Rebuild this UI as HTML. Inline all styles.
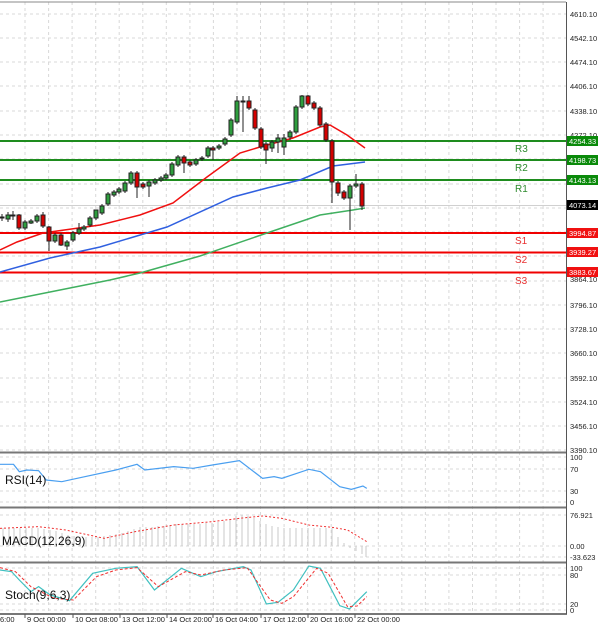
<!DOCTYPE html>
<html><head><meta charset="utf-8"><style>
html,body{margin:0;padding:0;background:#fff;}
svg{display:block;font-family:"Liberation Sans",sans-serif;}
</style></head><body>
<svg width="600" height="624" viewBox="0 0 600 624" xmlns="http://www.w3.org/2000/svg">
<rect width="600" height="624" fill="#fff"/>
<!-- vertical grid -->
<g stroke="#d8d8d8" stroke-dasharray="3,3" stroke-width="1">
<line x1="25" y1="2" x2="25" y2="614"/><line x1="48.6" y1="2" x2="48.6" y2="614"/><line x1="72.1" y1="2" x2="72.1" y2="614"/><line x1="95.7" y1="2" x2="95.7" y2="614"/><line x1="119.2" y1="2" x2="119.2" y2="614"/><line x1="142.8" y1="2" x2="142.8" y2="614"/><line x1="166.3" y1="2" x2="166.3" y2="614"/><line x1="189.9" y1="2" x2="189.9" y2="614"/><line x1="213.4" y1="2" x2="213.4" y2="614"/><line x1="237" y1="2" x2="237" y2="614"/><line x1="260.5" y1="2" x2="260.5" y2="614"/><line x1="284.1" y1="2" x2="284.1" y2="614"/><line x1="307.6" y1="2" x2="307.6" y2="614"/><line x1="331.2" y1="2" x2="331.2" y2="614"/><line x1="354.7" y1="2" x2="354.7" y2="614"/><line x1="378.3" y1="2" x2="378.3" y2="614"/><line x1="401.8" y1="2" x2="401.8" y2="614"/><line x1="425.4" y1="2" x2="425.4" y2="614"/><line x1="448.9" y1="2" x2="448.9" y2="614"/><line x1="472.5" y1="2" x2="472.5" y2="614"/><line x1="496" y1="2" x2="496" y2="614"/><line x1="519.6" y1="2" x2="519.6" y2="614"/><line x1="543.1" y1="2" x2="543.1" y2="614"/>
</g>
<!-- horizontal grid main -->
<g stroke="#d8d8d8" stroke-dasharray="3,3">
<line x1="0" y1="14" x2="566" y2="14"/><line x1="0" y1="38" x2="566" y2="38"/><line x1="0" y1="62" x2="566" y2="62"/><line x1="0" y1="86" x2="566" y2="86"/><line x1="0" y1="111" x2="566" y2="111"/><line x1="0" y1="135" x2="566" y2="135"/><line x1="0" y1="159" x2="566" y2="159"/><line x1="0" y1="184" x2="566" y2="184"/><line x1="0" y1="208" x2="566" y2="208"/><line x1="0" y1="232" x2="566" y2="232"/><line x1="0" y1="256" x2="566" y2="256"/><line x1="0" y1="281" x2="566" y2="281"/><line x1="0" y1="305" x2="566" y2="305"/><line x1="0" y1="329" x2="566" y2="329"/><line x1="0" y1="353" x2="566" y2="353"/><line x1="0" y1="378" x2="566" y2="378"/><line x1="0" y1="402" x2="566" y2="402"/><line x1="0" y1="426" x2="566" y2="426"/><line x1="0" y1="450" x2="566" y2="450"/>
<line x1="0" y1="457" x2="566" y2="457"/><line x1="0" y1="469" x2="566" y2="469"/><line x1="0" y1="491" x2="566" y2="491"/><line x1="0" y1="502" x2="566" y2="502"/>
<line x1="0" y1="515" x2="566" y2="515"/><line x1="0" y1="546" x2="566" y2="546"/><line x1="0" y1="557" x2="566" y2="557"/>
<line x1="0" y1="568" x2="566" y2="568"/><line x1="0" y1="575" x2="566" y2="575"/><line x1="0" y1="604" x2="566" y2="604"/><line x1="0" y1="610" x2="566" y2="610"/>
</g>
<!-- current price line -->
<line x1="0" y1="205.5" x2="566" y2="205.5" stroke="#d0d0d0" stroke-width="1"/>
<!-- S/R lines -->
<g stroke-width="2">
<line x1="0" y1="141" x2="566" y2="141" stroke="#1e8c1e"/>
<line x1="0" y1="160" x2="566" y2="160" stroke="#1e8c1e"/>
<line x1="0" y1="180" x2="566" y2="180" stroke="#1e8c1e"/>
<line x1="0" y1="233" x2="566" y2="233" stroke="#f00000"/>
<line x1="0" y1="252.5" x2="566" y2="252.5" stroke="#f00000"/>
<line x1="0" y1="272.5" x2="566" y2="272.5" stroke="#f00000"/>
</g>
<!-- MAs -->
<polyline fill="none" stroke="#40b060" stroke-width="1.5" points="0,302 50,292 110,280 140,273 200,256 267,233 320,215 353,210 365,208"/>
<polyline fill="none" stroke="#3060e0" stroke-width="1.5" points="0,272 50,258 100,247 167,227 233,197 267,188 300,180 333,166 365,162"/>
<polyline fill="none" stroke="#f01010" stroke-width="1.5" points="0,250 17,242 43,233 100,225 140,215 173,203 207,177 240,153 260,147 293,138 320,127 330,125 347,135 365,148"/>
<!-- candles -->
<g stroke="#222" stroke-width="1">
<line x1="2" y1="214" x2="2" y2="221"/><rect x="0" y="217" width="4" height="1" fill="#333"/>
<line x1="8" y1="212" x2="8" y2="222"/><rect x="6" y="215" width="4" height="4" fill="#2e9e3e"/>
<line x1="13" y1="211" x2="13" y2="220"/><rect x="11" y="215" width="4" height="1" fill="#333"/>
<line x1="19" y1="214" x2="19" y2="230"/><rect x="17" y="215" width="4" height="13" fill="#d40000"/>
<line x1="25" y1="220" x2="25" y2="230"/><rect x="23" y="222" width="4" height="6" fill="#2e9e3e"/>
<line x1="31" y1="219" x2="31" y2="224"/><rect x="29" y="221" width="4" height="2" fill="#2e9e3e"/>
<line x1="37" y1="214" x2="37" y2="223"/><rect x="35" y="216" width="4" height="5" fill="#2e9e3e"/>
<line x1="43" y1="212" x2="43" y2="228"/><rect x="41" y="215" width="4" height="11" fill="#d40000"/>
<line x1="49" y1="226" x2="49" y2="251"/><rect x="47" y="227" width="4" height="14" fill="#d40000"/>
<line x1="55" y1="233" x2="55" y2="243"/><rect x="53" y="235" width="4" height="6" fill="#2e9e3e"/>
<line x1="61" y1="233" x2="61" y2="246"/><rect x="59" y="235" width="4" height="10" fill="#d40000"/>
<line x1="67" y1="240" x2="67" y2="250"/><rect x="65" y="242" width="4" height="4" fill="#2e9e3e"/>
<line x1="73" y1="231" x2="73" y2="242"/><rect x="71" y="233" width="4" height="7" fill="#2e9e3e"/>
<line x1="79" y1="223" x2="79" y2="235"/><rect x="77" y="229" width="4" height="4" fill="#2e9e3e"/>
<line x1="84" y1="225" x2="84" y2="231"/><rect x="82" y="227" width="4" height="2" fill="#2e9e3e"/>
<line x1="90" y1="216" x2="90" y2="227"/><rect x="88" y="218" width="4" height="7" fill="#2e9e3e"/>
<line x1="96" y1="210" x2="96" y2="220"/><rect x="94" y="210" width="4" height="8" fill="#2e9e3e"/>
<line x1="102" y1="204" x2="102" y2="215"/><rect x="100" y="206" width="4" height="7" fill="#2e9e3e"/>
<line x1="108" y1="192" x2="108" y2="206"/><rect x="106" y="194" width="4" height="10" fill="#2e9e3e"/>
<line x1="114" y1="190" x2="114" y2="197"/><rect x="112" y="192" width="4" height="3" fill="#2e9e3e"/>
<line x1="119" y1="187" x2="119" y2="194"/><rect x="117" y="189" width="4" height="3" fill="#2e9e3e"/>
<line x1="125" y1="181" x2="125" y2="193"/><rect x="123" y="183" width="4" height="8" fill="#2e9e3e"/>
<line x1="131" y1="171" x2="131" y2="185"/><rect x="129" y="173" width="4" height="10" fill="#2e9e3e"/>
<line x1="137" y1="171" x2="137" y2="198"/><rect x="135" y="173" width="4" height="14" fill="#d40000"/>
<line x1="143" y1="182" x2="143" y2="189"/><rect x="141" y="184" width="4" height="3" fill="#d40000"/>
<line x1="149" y1="180" x2="149" y2="197"/><rect x="147" y="182" width="4" height="4" fill="#2e9e3e"/>
<line x1="155" y1="178" x2="155" y2="185"/><rect x="153" y="180" width="4" height="3" fill="#2e9e3e"/>
<line x1="161" y1="176" x2="161" y2="182"/><rect x="159" y="178" width="4" height="2" fill="#2e9e3e"/>
<line x1="166" y1="173" x2="166" y2="180"/><rect x="164" y="175" width="4" height="3" fill="#2e9e3e"/>
<line x1="172" y1="162" x2="172" y2="177"/><rect x="170" y="164" width="4" height="11" fill="#2e9e3e"/>
<line x1="178" y1="155" x2="178" y2="167"/><rect x="176" y="157" width="4" height="8" fill="#2e9e3e"/>
<line x1="184" y1="155" x2="184" y2="173"/><rect x="182" y="157" width="4" height="6" fill="#d40000"/>
<line x1="190" y1="160" x2="190" y2="167"/><rect x="188" y="162" width="4" height="3" fill="#d40000"/>
<line x1="196" y1="158" x2="196" y2="166"/><rect x="194" y="160" width="4" height="4" fill="#2e9e3e"/>
<line x1="202" y1="156" x2="202" y2="161"/><rect x="200" y="158" width="4" height="1" fill="#2e9e3e"/>
<line x1="208" y1="146" x2="208" y2="158"/><rect x="206" y="148" width="4" height="8" fill="#2e9e3e"/>
<line x1="213" y1="146" x2="213" y2="160"/><rect x="211" y="148" width="4" height="2" fill="#d40000"/>
<line x1="219" y1="144" x2="219" y2="150"/><rect x="217" y="146" width="4" height="2" fill="#2e9e3e"/>
<line x1="225" y1="137" x2="225" y2="146"/><rect x="223" y="139" width="4" height="5" fill="#2e9e3e"/>
<line x1="231" y1="118" x2="231" y2="137"/><rect x="229" y="120" width="4" height="15" fill="#2e9e3e"/>
<line x1="237" y1="96" x2="237" y2="124"/><rect x="235" y="101" width="4" height="21" fill="#2e9e3e"/>
<line x1="243" y1="96" x2="243" y2="132"/><rect x="241" y="101" width="4" height="1" fill="#333"/>
<line x1="249" y1="96" x2="249" y2="110"/><rect x="247" y="101" width="4" height="7" fill="#d40000"/>
<line x1="255" y1="108" x2="255" y2="130"/><rect x="253" y="110" width="4" height="18" fill="#d40000"/>
<line x1="261" y1="127" x2="261" y2="149"/><rect x="259" y="129" width="4" height="18" fill="#d40000"/>
<line x1="266" y1="142" x2="266" y2="164"/><rect x="264" y="144" width="4" height="6" fill="#d40000"/>
<line x1="272" y1="140" x2="272" y2="152"/><rect x="270" y="142" width="4" height="6" fill="#2e9e3e"/>
<line x1="278" y1="134" x2="278" y2="153"/><rect x="276" y="138" width="4" height="4" fill="#2e9e3e"/>
<line x1="284" y1="134" x2="284" y2="155"/><rect x="282" y="138" width="4" height="9" fill="#2e9e3e"/>
<line x1="290" y1="130" x2="290" y2="140"/><rect x="288" y="132" width="4" height="5" fill="#2e9e3e"/>
<line x1="296" y1="105" x2="296" y2="134"/><rect x="294" y="107" width="4" height="25" fill="#2e9e3e"/>
<line x1="302" y1="95" x2="302" y2="109"/><rect x="300" y="96" width="4" height="11" fill="#2e9e3e"/>
<line x1="308" y1="95" x2="308" y2="106"/><rect x="306" y="96" width="4" height="8" fill="#d40000"/>
<line x1="314" y1="101" x2="314" y2="110"/><rect x="312" y="103" width="4" height="5" fill="#d40000"/>
<line x1="320" y1="106" x2="320" y2="127"/><rect x="318" y="108" width="4" height="17" fill="#d40000"/>
<line x1="326" y1="122" x2="326" y2="142"/><rect x="324" y="124" width="4" height="16" fill="#d40000"/>
<line x1="332" y1="139" x2="332" y2="203"/><rect x="330" y="141" width="4" height="41" fill="#d40000"/>
<line x1="338" y1="181" x2="338" y2="196"/><rect x="336" y="183" width="4" height="10" fill="#d40000"/>
<line x1="344" y1="190" x2="344" y2="200"/><rect x="342" y="192" width="4" height="6" fill="#d40000"/>
<line x1="350" y1="184" x2="350" y2="230"/><rect x="348" y="186" width="4" height="12" fill="#2e9e3e"/>
<line x1="356" y1="174" x2="356" y2="188"/><rect x="354" y="184" width="4" height="2" fill="#2e9e3e"/>
<line x1="362" y1="182" x2="362" y2="210"/><rect x="360" y="184" width="4" height="22" fill="#d40000"/>
</g>
<!-- S/R labels -->
<g font-size="10">
<text x="515" y="152" fill="#2e8b2e">R3</text>
<text x="515" y="171" fill="#2e8b2e">R2</text>
<text x="515" y="192" fill="#2e8b2e">R1</text>
<text x="515" y="244" fill="#e83030">S1</text>
<text x="515" y="263" fill="#e83030">S2</text>
<text x="515" y="284" fill="#e83030">S3</text>
</g>
<!-- RSI -->
<g transform="translate(0,440) scale(0.3861,0.3333)">
<polyline vector-effect="non-scaling-stroke" fill="none" stroke="#4a9ff0" stroke-width="1.2" points="0,73 35,73 50,95 70,90 100,92 120,120 160,125 200,115 300,90 355,73 375,90 450,80 500,85 550,75 620,62 680,115 710,110 730,115 800,88 830,95 880,140 910,148 940,138 950,145"/>
</g>
<!-- MACD histogram -->
<g stroke="#c8c8c8" stroke-width="1">
<line x1="3" y1="546" x2="3" y2="528"/><line x1="9" y1="546" x2="9" y2="528"/><line x1="14" y1="546" x2="14" y2="528"/><line x1="20" y1="546" x2="20" y2="528"/><line x1="26" y1="546" x2="26" y2="528"/><line x1="32" y1="546" x2="32" y2="528"/><line x1="38" y1="546" x2="38" y2="528"/><line x1="44" y1="546" x2="44" y2="529"/><line x1="50" y1="546" x2="50" y2="530"/><line x1="56" y1="546" x2="56" y2="531"/><line x1="62" y1="546" x2="62" y2="533"/><line x1="68" y1="546" x2="68" y2="535"/><line x1="74" y1="546" x2="74" y2="536"/><line x1="80" y1="546" x2="80" y2="537"/><line x1="86" y1="546" x2="86" y2="537"/><line x1="92" y1="546" x2="92" y2="537"/><line x1="98" y1="546" x2="98" y2="537"/><line x1="104" y1="546" x2="104" y2="536"/><line x1="110" y1="546" x2="110" y2="535"/><line x1="116" y1="546" x2="116" y2="534"/><line x1="122" y1="546" x2="122" y2="533"/><line x1="128" y1="546" x2="128" y2="531"/><line x1="134" y1="546" x2="134" y2="529"/><line x1="140" y1="546" x2="140" y2="527"/><line x1="146" y1="546" x2="146" y2="527"/><line x1="152" y1="546" x2="152" y2="527"/><line x1="158" y1="546" x2="158" y2="526"/><line x1="164" y1="546" x2="164" y2="526"/><line x1="170" y1="546" x2="170" y2="525"/><line x1="176" y1="546" x2="176" y2="524"/><line x1="182" y1="546" x2="182" y2="524"/><line x1="188" y1="546" x2="188" y2="524"/><line x1="194" y1="546" x2="194" y2="524"/><line x1="200" y1="546" x2="200" y2="524"/><line x1="206" y1="546" x2="206" y2="523"/><line x1="212" y1="546" x2="212" y2="523"/><line x1="218" y1="546" x2="218" y2="522"/><line x1="224" y1="546" x2="224" y2="521"/><line x1="230" y1="546" x2="230" y2="519"/><line x1="236" y1="546" x2="236" y2="516"/><line x1="242" y1="546" x2="242" y2="515"/><line x1="248" y1="546" x2="248" y2="516"/><line x1="254" y1="546" x2="254" y2="518"/><line x1="260" y1="546" x2="260" y2="521"/><line x1="266" y1="546" x2="266" y2="524"/><line x1="272" y1="546" x2="272" y2="526"/><line x1="278" y1="546" x2="278" y2="527"/><line x1="284" y1="546" x2="284" y2="528"/><line x1="290" y1="546" x2="290" y2="528"/><line x1="296" y1="546" x2="296" y2="528"/><line x1="302" y1="546" x2="302" y2="528"/><line x1="308" y1="546" x2="308" y2="528"/><line x1="314" y1="546" x2="314" y2="528"/><line x1="320" y1="546" x2="320" y2="528"/><line x1="326" y1="546" x2="326" y2="528"/><line x1="332" y1="546" x2="332" y2="528"/><line x1="338" y1="546" x2="338" y2="537"/><line x1="344" y1="546" x2="344" y2="543"/><line x1="350" y1="546" x2="350" y2="548"/><line x1="356" y1="546" x2="356" y2="551"/><line x1="362" y1="546" x2="362" y2="554"/><line x1="366" y1="546" x2="366" y2="557"/>
</g>
<g transform="translate(0,440) scale(0.3861,0.3333)">
<polyline vector-effect="non-scaling-stroke" fill="none" stroke="#f03030" stroke-width="1" stroke-dasharray="2,2" points="0,265 100,260 170,270 270,295 350,275 450,255 550,245 620,235 680,228 730,235 800,255 860,262 900,270 950,305"/>
</g>
<!-- Stoch -->
<g transform="translate(0,440) scale(0.3861,0.3333)">
<polyline vector-effect="non-scaling-stroke" fill="none" stroke="#40c0c0" stroke-width="1.2" points="0,390 30,395 50,420 80,455 100,440 130,465 180,482 240,400 300,385 355,380 400,450 470,385 520,410 560,395 630,380 650,390 690,492 720,487 760,450 800,378 830,385 880,497 905,507 950,455"/>
<polyline vector-effect="non-scaling-stroke" fill="none" stroke="#f03030" stroke-width="1" stroke-dasharray="3,2" points="0,383 40,395 80,440 140,475 190,480 250,410 300,390 355,383 410,440 480,395 520,405 580,390 640,383 700,480 730,490 760,470 820,385 850,400 900,500 925,498 950,470"/>
</g>
<!-- panel borders -->
<line x1="0" y1="2" x2="566" y2="2" stroke="#888" stroke-width="1"/>
<g stroke="#777" stroke-width="2">
<line x1="0" y1="452.5" x2="567" y2="452.5"/>
<line x1="0" y1="507.5" x2="567" y2="507.5"/>
<line x1="0" y1="562.5" x2="567" y2="562.5"/>
<line x1="0" y1="614" x2="567" y2="614"/>
</g>
<line x1="566.5" y1="2" x2="566.5" y2="614" stroke="#555" stroke-width="1"/>
<!-- panel titles -->
<g font-size="12" fill="#111">
<text x="5" y="484">RSI(14)</text>
<text x="2" y="545">MACD(12,26,9)</text>
<text x="5" y="599">Stoch(9,6,3)</text>
</g>
<!-- right axis labels -->
<g font-size="7.5" fill="#222">
<text x="570" y="17">4610.10</text><text x="570" y="41">4542.10</text><text x="570" y="65">4474.10</text><text x="570" y="89">4406.10</text><text x="570" y="114">4338.10</text><text x="570" y="138">4272.10</text><text x="570" y="282">3864.10</text><text x="570" y="308">3796.10</text><text x="570" y="332">3728.10</text><text x="570" y="356">3660.10</text><text x="570" y="381">3592.10</text><text x="570" y="405">3524.10</text><text x="570" y="429">3456.10</text><text x="570" y="453">3390.10</text>
<text x="570" y="460">100</text><text x="570" y="472">70</text><text x="570" y="494">30</text><text x="570" y="505">0</text>
<text x="570" y="518">76.921</text><text x="570" y="549">0.00</text><text x="570" y="560">-33.623</text>
<text x="570" y="571">100</text><text x="570" y="578">80</text><text x="570" y="607">20</text><text x="570" y="613">0</text>
</g>
<g font-size="7.5" fill="#fff">
<rect x="567" y="136" width="31" height="10" fill="#0a8a0a"/><text x="569" y="144">4254.33</text>
<rect x="567" y="155" width="31" height="10" fill="#0a8a0a"/><text x="569" y="163">4198.73</text>
<rect x="567" y="175" width="31" height="10" fill="#0a8a0a"/><text x="569" y="183">4143.13</text>
<rect x="567" y="200" width="31" height="10" fill="#000"/><text x="569" y="208">4073.14</text>
<rect x="567" y="228" width="31" height="10" fill="#f01010"/><text x="569" y="236">3994.87</text>
<rect x="567" y="247" width="31" height="10" fill="#f01010"/><text x="569" y="255">3939.27</text>
<rect x="567" y="267" width="31" height="10" fill="#f01010"/><text x="569" y="275">3883.67</text>
</g>
<!-- x axis labels -->
<g font-size="7.5" fill="#222">
<text x="0" y="622">6:00</text>
<text x="27" y="622">9 Oct 00:00</text>
<text x="75" y="622">10 Oct 08:00</text>
<text x="122" y="622">13 Oct 12:00</text>
<text x="169" y="622">14 Oct 20:00</text>
<text x="215" y="622">16 Oct 04:00</text>
<text x="263" y="622">17 Oct 12:00</text>
<text x="310" y="622">20 Oct 16:00</text>
<text x="357" y="622">22 Oct 00:00</text>
</g>
<g stroke="#555"><line x1="25" y1="614" x2="25" y2="618"/><line x1="73" y1="614" x2="73" y2="618"/><line x1="120" y1="614" x2="120" y2="618"/><line x1="167" y1="614" x2="167" y2="618"/><line x1="213" y1="614" x2="213" y2="618"/><line x1="261" y1="614" x2="261" y2="618"/><line x1="308" y1="614" x2="308" y2="618"/><line x1="355" y1="614" x2="355" y2="618"/></g>
</svg>
</body></html>
